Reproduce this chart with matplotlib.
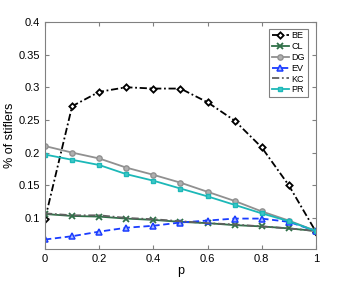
import numpy as np
import matplotlib
matplotlib.use("Agg")
import matplotlib.pyplot as plt

plt.rcParams['font.family'] = ['Liberation Sans', 'DejaVu Sans']

# data
p = [0, 0.1, 0.2, 0.3, 0.4, 0.5, 0.6, 0.7, 0.8, 0.9, 1.0]
be = [0.098, 0.271, 0.293, 0.300, 0.298, 0.298, 0.277, 0.249, 0.208, 0.150, 0.079]
cl = [0.106, 0.103, 0.102, 0.099, 0.097, 0.094, 0.092, 0.089, 0.087, 0.084, 0.080]
dg = [0.210, 0.200, 0.191, 0.177, 0.166, 0.154, 0.140, 0.126, 0.110, 0.096, 0.080]
ev = [0.067, 0.072, 0.079, 0.085, 0.088, 0.093, 0.096, 0.099, 0.099, 0.094, 0.080]
kc = [0.107, 0.104, 0.104, 0.100, 0.098, 0.095, 0.092, 0.090, 0.087, 0.084, 0.080]
pr = [0.197, 0.189, 0.181, 0.167, 0.157, 0.145, 0.133, 0.120, 0.107, 0.095, 0.080]

fig = plt.figure(figsize=(3.49, 2.81), dpi=100)
ax = fig.add_axes([0.129, 0.114, 0.776, 0.808])

dashdot = (0, (4, 1.5, 1, 1.5))
ax.plot(p, be, color='black', ls=dashdot, lw=1.3, marker='D', ms=3.2, mfc='white', mew=1.3, label='BE')
ax.plot(p, cl, color='#2f7048', ls='-', lw=1.3, marker='x', ms=3.8, mew=1.3, label='CL')
ax.plot(p, dg, color='#909090', ls='-', lw=1.3, marker='o', ms=3.8, mfc='#b0b0b0', mew=1.0, label='DG')
ax.plot(p, ev, color='#1a3cff', ls=(0, (3.5, 2)), lw=1.3, marker='^', ms=4.2, mfc='#a8b8ff', mew=1.1, label='EV')
ax.plot(p, kc, color='#606060', ls=dashdot, lw=1.3, label='KC')
ax.plot(p, pr, color='#1cb8b8', ls='-', lw=1.3, marker='s', ms=3.3, mfc='#40c8c8', mew=1.0, label='PR')

ax.set_xlim(0, 1)
ax.set_ylim(0.0525, 0.4)
ax.set_xticks(np.arange(0, 1.01, 0.2))
ax.set_xticklabels(['0', '0.2', '0.4', '0.6', '0.8', '1'])
ax.set_yticks([0.1, 0.15, 0.2, 0.25, 0.3, 0.35, 0.4])
ax.set_yticklabels(['0.1', '0.15', '0.2', '0.25', '0.3', '0.35', '0.4'])
ax.tick_params(direction='in', top=True, right=True, labelsize=8, length=3, color='#808080')
for s in ax.spines.values():
    s.set_color('#808080')
    s.set_linewidth(0.8)

ax.set_xlabel('p', fontsize=9, labelpad=1)
ax.set_ylabel('% of stiflers', fontsize=9, labelpad=2)

leg = ax.legend(loc='upper right', fontsize=6.5, handlelength=1.9, handletextpad=0.3,
                borderpad=0.3, labelspacing=0.2, fancybox=False, framealpha=1,
                bbox_to_anchor=(0.987, 0.99))
leg.get_frame().set_edgecolor('#808080')
leg.get_frame().set_linewidth(0.8)

fig.savefig('out.png', dpi=100)
